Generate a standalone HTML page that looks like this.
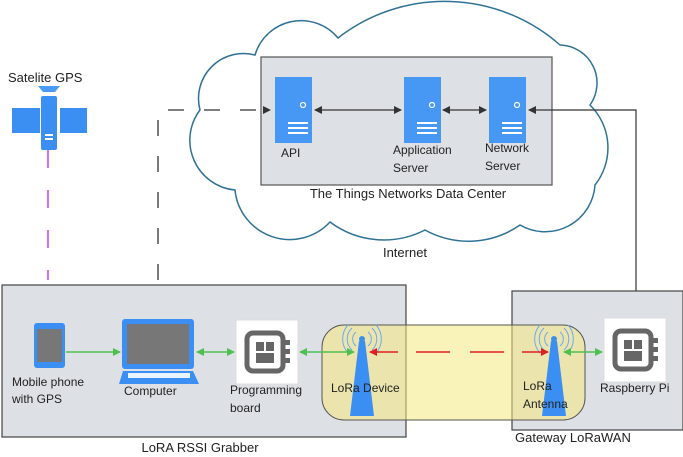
<!DOCTYPE html>
<html><head><meta charset="utf-8"><style>
html,body{margin:0;padding:0;background:#fff}
svg{display:block}
text{font-family:"Liberation Sans",sans-serif;fill:#222}
</style></head><body>
<svg width="683" height="457" viewBox="0 0 683 457" xmlns="http://www.w3.org/2000/svg">
<defs>
<marker id="ak" markerWidth="8" markerHeight="8" refX="7" refY="4" orient="auto-start-reverse" markerUnits="userSpaceOnUse"><path d="M0,0 L8,4 L0,8 z" fill="#333"/></marker>
<marker id="ag" markerWidth="8" markerHeight="8" refX="7" refY="4" orient="auto-start-reverse" markerUnits="userSpaceOnUse"><path d="M0,0 L8,4 L0,8 z" fill="#4fc04f"/></marker>
<marker id="ar" markerWidth="8" markerHeight="8" refX="7" refY="4" orient="auto-start-reverse" markerUnits="userSpaceOnUse"><path d="M0,0 L8,4 L0,8 z" fill="#e02020"/></marker>
<marker id="ap" markerWidth="8" markerHeight="8" refX="7" refY="4" orient="auto-start-reverse" markerUnits="userSpaceOnUse"><path d="M0,0 L8,4 L0,8 z" fill="#c040f0"/></marker>
<g id="srv"><rect x="0" y="0" width="37" height="66" fill="#4797f5"/><circle cx="28" cy="28" r="2.5" fill="none" stroke="#fff" stroke-width="1.2"/><rect x="13" y="45" width="20" height="2" fill="#fff"/><rect x="13" y="50" width="20" height="2" fill="#fff"/><rect x="13" y="55" width="20" height="2" fill="#fff"/></g>
<g id="chip"><rect x="0" y="0" width="62" height="64" fill="#fff" stroke="#ddd"/><rect x="11" y="13" width="36" height="38" rx="6" fill="none" stroke="#666" stroke-width="5"/><rect x="20" y="22" width="8" height="9" fill="#666"/><rect x="30" y="22" width="8" height="9" fill="#666"/><rect x="20" y="33" width="18" height="10" fill="#666"/><rect x="49" y="20" width="5" height="5" fill="#666"/><rect x="49" y="29" width="5" height="5" fill="#666"/><rect x="49" y="38" width="5" height="5" fill="#666"/></g>
<g id="ant"><path d="M-3,0 L3,0 L12,75 L-12,75 z" fill="#3b8ef2"/><circle cx="0" cy="-2" r="3" fill="#3b8ef2"/><path d="M-6,-9 A9,9 0 0 0 -6,5 M6,-9 A9,9 0 0 1 6,5 M-10,-13 A15,15 0 0 0 -10,9 M10,-13 A15,15 0 0 1 10,9 M-14,-16 A21,21 0 0 0 -14,12 M14,-16 A21,21 0 0 1 14,12" fill="none" stroke="#6aaaf5" stroke-width="1"/></g>
</defs>
<!-- cloud -->
<path d="M200,110 A45,45 0 0 1 255,55 A48,48 0 0 1 338,38 A174,174 0 0 1 560,45 A38,38 0 0 1 590,105 A60,60 0 0 1 595,185 A50,50 0 0 1 520,225 A90,90 0 0 1 425,230 A90,90 0 0 1 330,222 A55,55 0 0 1 235,190 A50,50 0 0 1 200,110 z" fill="#fff" stroke="#2f7296" stroke-width="1.5"/>
<rect x="261" y="57" width="291" height="128" fill="#dde0e5" stroke="#555" stroke-width="1.2"/>
<use href="#srv" x="275" y="77"/><use href="#srv" x="404" y="77"/><use href="#srv" x="489" y="77"/>
<text x="281" y="157" font-size="12">API</text>
<text x="393" y="154" font-size="12">Application</text><text x="393" y="172" font-size="12">Server</text>
<text x="485" y="152" font-size="12">Network</text><text x="485" y="170" font-size="12">Server</text>
<text x="408" y="198" font-size="13" text-anchor="middle">The Things Networks Data Center</text>
<text x="405" y="257" font-size="13" text-anchor="middle">Internet</text>
<line x1="315" y1="110" x2="401" y2="110" stroke="#333" stroke-width="1.2" marker-start="url(#ak)" marker-end="url(#ak)"/>
<line x1="443" y1="110" x2="486" y2="110" stroke="#333" stroke-width="1.2" marker-start="url(#ak)" marker-end="url(#ak)"/>
<polyline points="636,308 636,110 529,110" fill="none" stroke="#333" stroke-width="1.2" marker-start="url(#ak)" marker-end="url(#ak)"/>
<polyline points="158,280 158,110 270,110" fill="none" stroke="#333" stroke-width="1.3" stroke-dasharray="16,20" marker-end="url(#ak)"/>
<line x1="158" y1="285" x2="158" y2="314" stroke="#333" stroke-width="1.3" marker-end="url(#ak)"/>
<!-- satellite -->
<text x="8" y="82" font-size="13">Satelite GPS</text>
<path d="M38,86 L60,86 L55,92 L43,92 z" fill="#4a9bf5"/>
<rect x="41" y="96" width="16" height="54" rx="2" fill="#3b8ef2"/>
<rect x="12" y="108" width="28" height="25" fill="#3b8ef2"/><rect x="60" y="108" width="27" height="25" fill="#3b8ef2"/>
<rect x="45" y="134" width="8" height="2" fill="#fff"/><rect x="45" y="138" width="8" height="2" fill="#fff"/>
<line x1="48" y1="150" x2="48" y2="280" stroke="#c040f0" stroke-width="1.5" stroke-dasharray="18,22"/>
<line x1="48" y1="290" x2="48" y2="318" stroke="#c040f0" stroke-width="1.5" marker-end="url(#ap)"/>
<!-- boxes -->
<rect x="2" y="285" width="404" height="152" fill="#dde0e5" stroke="#444" stroke-width="1.2"/>
<rect x="512" y="291" width="171" height="139" fill="#dde0e5" stroke="#444" stroke-width="1.2"/>
<rect x="322" y="325" width="263" height="95" rx="22" fill="#f5ea80" fill-opacity="0.55" stroke="#555" stroke-width="1"/>
<text x="200" y="452" font-size="13" text-anchor="middle">LoRA RSSI Grabber</text>
<text x="515" y="442" font-size="13">Gateway LoRaWAN</text>
<!-- phone -->
<rect x="34" y="323" width="31" height="45" rx="3" fill="#3b8ef2"/><rect x="37" y="329" width="25" height="33" fill="#777"/>
<text x="12" y="386" font-size="12">Mobile phone</text><text x="12" y="403" font-size="12">with GPS</text>
<!-- laptop -->
<rect x="122" y="319" width="72" height="50" rx="3" fill="#3b8ef2"/><rect x="127" y="324" width="62" height="40" fill="#777"/>
<path d="M123,371 L193,371 L199,384 L119,384 z" fill="#3b8ef2"/><rect x="128" y="373" width="62" height="5" fill="#fff" opacity="0.9"/>
<text x="124" y="395" font-size="12">Computer</text>
<use href="#chip" x="236" y="320"/>
<text x="230" y="394" font-size="12">Programming</text><text x="230" y="412" font-size="12">board</text>
<use href="#chip" x="604" y="318"/>
<text x="600" y="392" font-size="12">Raspberry Pi</text>
<use href="#ant" x="362" y="341"/><use href="#ant" x="554" y="341"/>
<text x="331" y="392" font-size="12">LoRa Device</text>
<text x="523" y="390" font-size="12">LoRa</text><text x="523" y="408" font-size="12">Antenna</text>
<!-- arrows -->
<line x1="66" y1="352" x2="120" y2="352" stroke="#4fc04f" stroke-width="1.5" marker-end="url(#ag)"/>
<line x1="197" y1="352" x2="234" y2="352" stroke="#4fc04f" stroke-width="1.5" marker-start="url(#ag)" marker-end="url(#ag)"/>
<line x1="300" y1="352" x2="354" y2="352" stroke="#4fc04f" stroke-width="1.5" marker-start="url(#ag)" marker-end="url(#ag)"/>
<line x1="564" y1="352" x2="602" y2="352" stroke="#4fc04f" stroke-width="1.5" marker-start="url(#ag)" marker-end="url(#ag)"/>
<line x1="370" y1="352" x2="398" y2="352" stroke="#e02020" stroke-width="1.5" marker-start="url(#ar)"/>
<line x1="416" y1="352" x2="450" y2="352" stroke="#e02020" stroke-width="1.5"/>
<line x1="470" y1="352" x2="504" y2="352" stroke="#e02020" stroke-width="1.5"/>
<line x1="522" y1="352" x2="548" y2="352" stroke="#e02020" stroke-width="1.5" marker-end="url(#ar)"/>
</svg>
</body></html>
